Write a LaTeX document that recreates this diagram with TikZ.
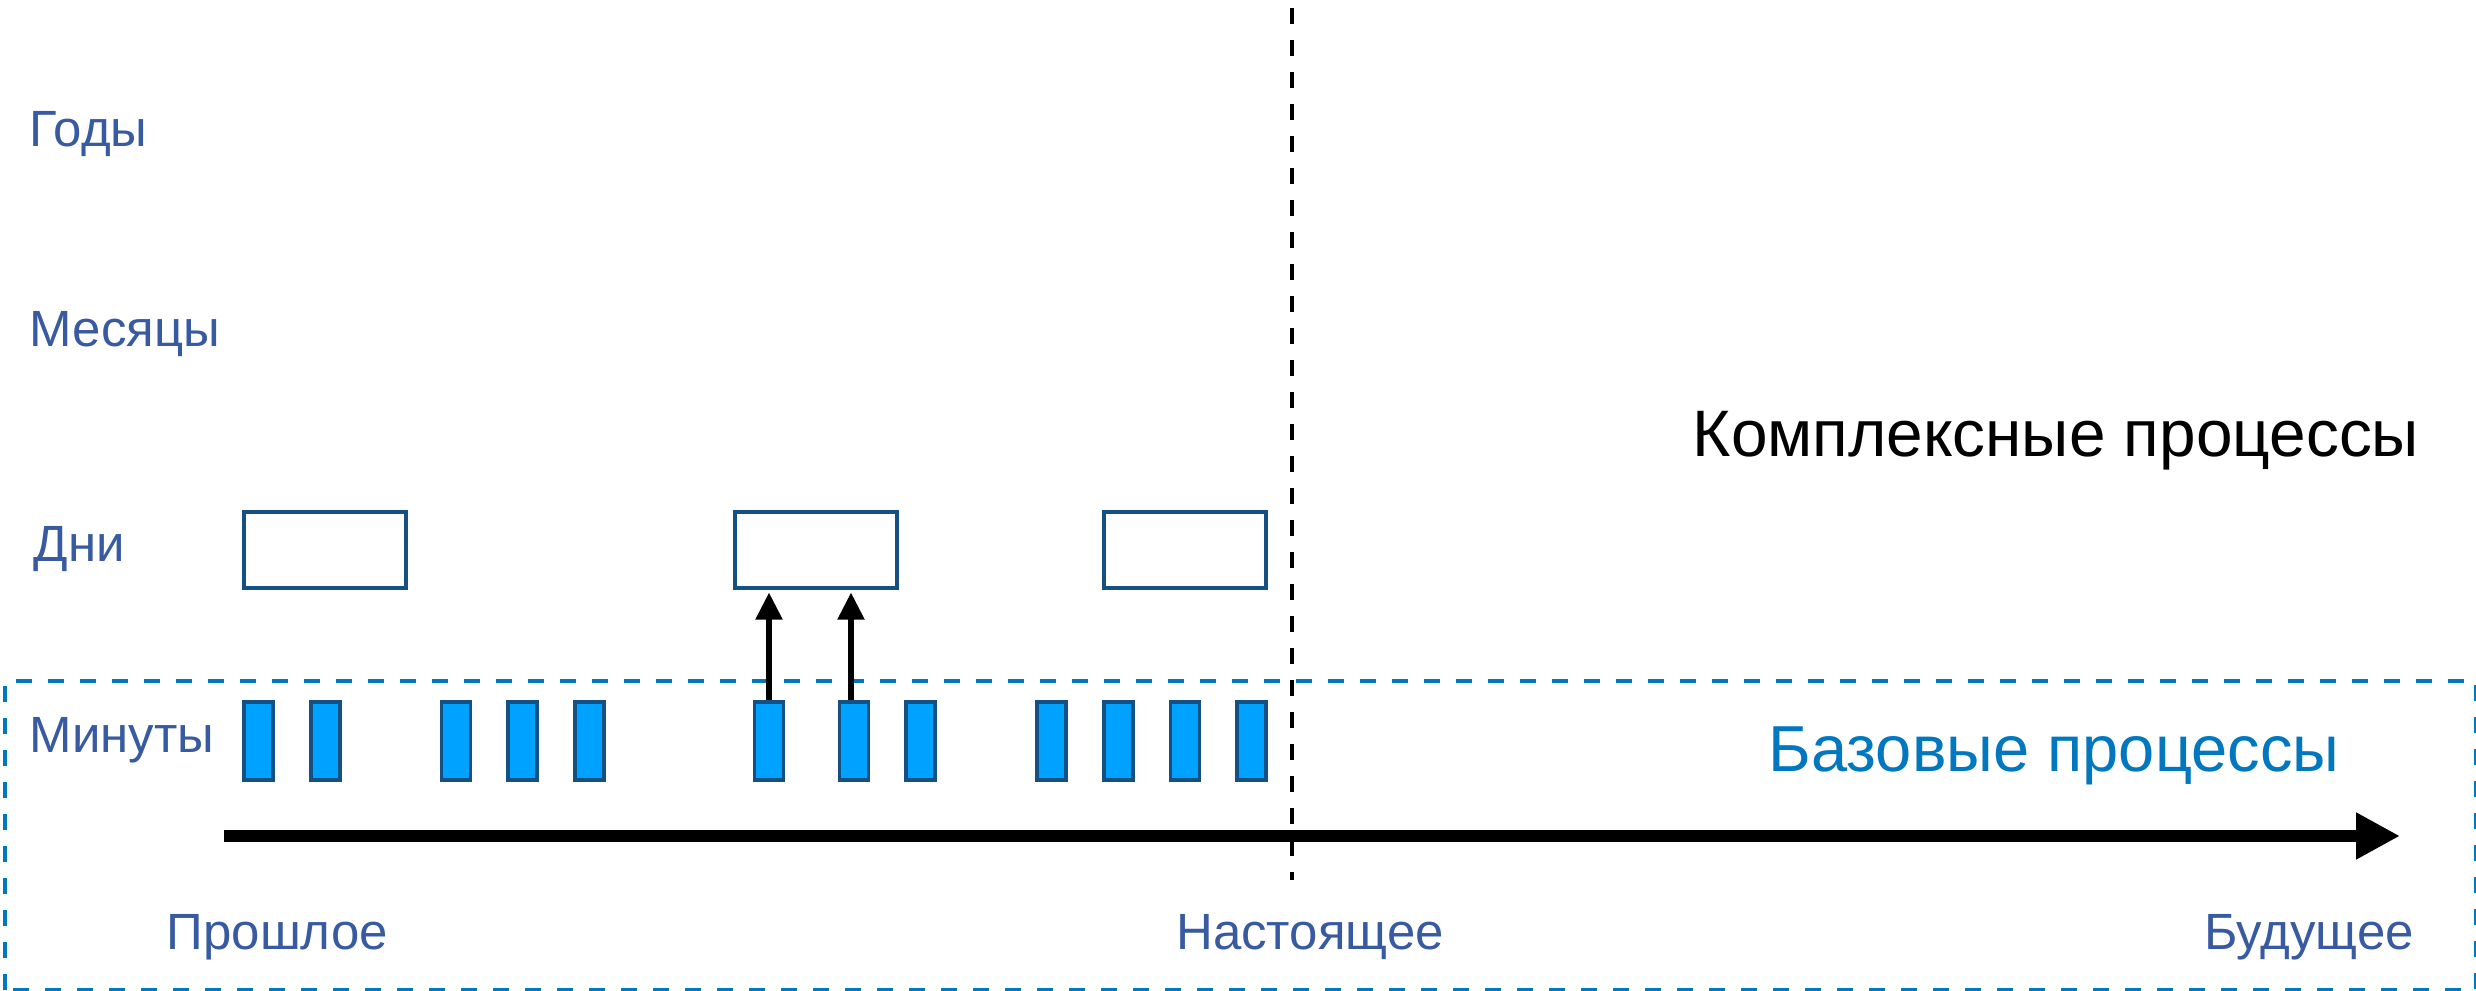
\documentclass[tikz,border=0pt]{standalone}
\usepackage{fontspec}
\setmainfont{Liberation Sans}
\usetikzlibrary{arrows.meta,positioning}
\definecolor{labelblue}{RGB}{56,90,160}
\definecolor{barblue}{RGB}{0,162,255}
\definecolor{edgeblue}{RGB}{20,80,130}
\definecolor{baseblue}{RGB}{0,119,190}

\begin{document}
\begin{tikzpicture}[
	scalelabel/.style={text=labelblue, font=\fontsize{14.5}{17}\selectfont, inner sep=0pt, anchor=base west},
	timelabel/.style={scalelabel, anchor=base},
	dayblock/.style={draw=edgeblue, line width=0.9pt, fill=white, minimum width=1.62cm, minimum height=0.76cm, inner sep=0pt},
	minblock/.style={draw=edgeblue, line width=0.9pt, fill=barblue, minimum width=0.29cm, minimum height=0.78cm, inner sep=0pt},
	lift/.style={line width=1.5pt, -{Triangle[length=0.27cm,width=0.26cm]}, shorten >=0.03cm}]
		\useasboundingbox (0,0) rectangle (24.76,9.91);
		\draw[baseblue, line width=0.9pt, dash pattern=on 0.16cm off 0.16cm] (0.05,0.01) rectangle (24.76,3.10);
		\draw[line width=0.9pt, dash pattern=on 0.16cm off 0.16cm] (12.92,9.83) -- (12.92,1.11);
		\node[scalelabel] (years) at (0.29,8.44) {Годы};
		\node[scalelabel] (months) at (0.29,6.44) {Месяцы};
		\node[scalelabel] (days) at (0.33,4.29) {Дни};
		\node[scalelabel] (minutes) at (0.29,2.38) {Минуты};
		\node[dayblock] (d1) at (3.25,4.41) {};
		\node[dayblock] (d2) at (8.16,4.41) {};
		\node[dayblock] (d3) at (11.85,4.41) {};
		\foreach \x [count=\i] in {2.585,3.255,4.56,5.225,5.895,7.69,8.54,9.205,10.515,11.185,11.85,12.515}
			\node[minblock] (m\i) at (\x,2.50) {};
		\draw[lift] (m6.north) -- (m6.north |- d2.south);
		\draw[lift] ([xshift=-0.03cm]m7.north) -- ([xshift=-0.03cm]m7.north |- d2.south);
		\coordinate (past) at (2.24,1.55);
		\coordinate (future) at (24.00,1.55);
		\draw[line width=3.3pt, -{Triangle[length=0.44cm,width=0.44cm]}] (past) -- (future);
		\node[scalelabel] (pastlabel) at (1.66,0.41) {Прошлое};
		\node[timelabel] (nowlabel) at (13.10,0.41) {Настоящее};
		\node[timelabel] (futurelabel) at (23.09,0.41) {Будущее};
		\node[font=\fontsize{18.7}{22}\selectfont, inner sep=0pt, anchor=base west] (complex) at (16.92,5.34) {Комплексные процессы};
		\node[text=baseblue, font=\fontsize{18.5}{22}\selectfont, inner sep=0pt, anchor=base west] (basic) at (17.68,2.19) {Базовые процессы};
\end{tikzpicture}
\end{document}
